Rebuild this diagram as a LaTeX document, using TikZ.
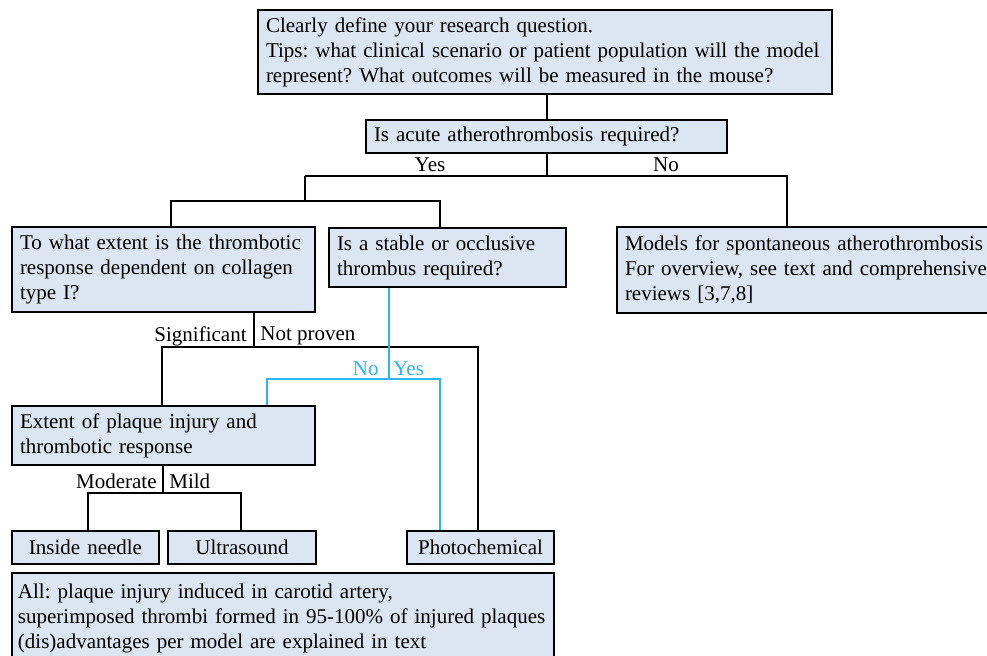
\documentclass[tikz,border=0pt]{standalone}
\usepackage{fontspec}
\setmainfont{Liberation Serif}
\usepackage{tikz}
\usetikzlibrary{calc}
\usetikzlibrary{positioning}
\definecolor{boxfill}{RGB}{220,230,242}
\definecolor{lineblue}{RGB}{45,182,235}

\begin{document}
\begin{tikzpicture}[x=0.5pt,y=-0.5pt,font=\fontsize{10.5}{12.5}\selectfont\frenchspacing]
\tikzstyle{box}=[rectangle,align=left,draw,line width=1pt,fill=boxfill,anchor=north west,inner xsep=4pt,inner ysep=0pt]
\tikzstyle{link}=[line width=1pt]
\tikzstyle{blink}=[line width=1pt,draw=lineblue]
\tikzstyle{lbl}=[inner sep=0pt]
\useasboundingbox (0,0) rectangle (987,656);
\clip (0,0) rectangle (987,656);
\node[box,text width=279pt,minimum height=42pt] at (257,9) (q) {Clearly define your research question.\\
                         Tips: what clinical scenario or patient population will the model\\
                         represent? What outcomes will be measured in the mouse?};
\node[box,text width=172.5pt,minimum height=16.5pt] at (365,119) (acute) {Is acute atherothrombosis required?};
\node[box,text width=143.5pt,minimum height=42.5pt] at (11,226) (collagen) {To what extent is the thrombotic\\
                         response dependent on collagen\\
                         type I?};
\node[box,text width=110.5pt,minimum height=29.5pt] at (328,227) (stable) {Is a stable or occlusive\\
                         thrombus required?};
\node[box,text width=189pt,minimum height=43pt] at (616,226) (spont) {Models for spontaneous atherothrombosis\\
                         For overview, see text and comprehensive\\
                         reviews [3,7,8]};
\node[box,text width=143.5pt,minimum height=29.5pt] at (11,405) (extent) {Extent of plaque injury and\\
                         thrombotic response};
\node[box,align=center,text width=65.5pt,minimum height=16.5pt] at (11,530) (needle) {Inside needle};
\node[box,align=center,text width=66pt,minimum height=16.5pt] at (167,530) (ultra) {Ultrasound};
\node[box,align=center,text width=65.5pt,minimum height=16.5pt] at (406,530) (photo) {Photochemical};
\node[box,inner xsep=3pt,text width=265pt,minimum height=45pt] at (11,572) (all) {All: plaque injury induced in carotid artery,\\
                         superimposed thrombi formed in 95-100\% of injured plaques\\
                         (dis)advantages per model are explained in text};

\coordinate (yes) at (305,176);
\coordinate (no) at (787,176);
\coordinate (yesbus) at (305,201);
\coordinate (colT) at (171,201);
\coordinate (staT) at (440,201);
\draw[link] (q.south -| acute.north) -- (acute.north);
\draw[link] (acute.south) -- (acute.south |- yes);
\draw[link] (yes) -- (no) -- (no |- spont.north);
\draw[link] (yes) -- (yesbus);
\draw[link] (collagen.north -| colT) -- (colT) -- (staT) -- (stable.north -| staT);
\node[lbl] at (430,165) (yestxt) {Yes};
\node[lbl] at (666,165) (notxt) {No};

\coordinate (sig) at (254,347);
\coordinate (sigL) at (162,347);
\coordinate (sigR) at (478,347);
\draw[link] (collagen.south -| sig) -- (sig);
\draw[link] (extent.north -| sigL) -- (sigL) -- (sigR) -- (photo.north -| sigR);
\node[lbl,anchor=east] at (247,336) (sigtxt) {Significant};
\node[lbl,anchor=west] at (260,336) (nptxt) {Not proven};

\coordinate (st) at (389,379);
\coordinate (stL) at (267,379);
\coordinate (stR) at (440,379);
\draw[blink] (stable.south -| st) -- (st);
\draw[blink] (extent.north -| stL) -- (stL) -- (stR) -- (photo.north -| stR);
\node[lbl,anchor=east,text=lineblue] at (379,369) (stno) {No};
\node[lbl,anchor=west,text=lineblue] at (393,369) (styes) {Yes};

\coordinate (mod) at (163,493);
\coordinate (modL) at (88,493);
\coordinate (modR) at (241,493);
\draw[link] (extent.south -| mod) -- (mod);
\draw[link] (needle.north -| modL) -- (modL) -- (modR) -- (ultra.north -| modR);
\node[lbl,anchor=east] at (157,481) (modtxt) {Moderate};
\node[lbl,anchor=west] at (169,481) (mildtxt) {Mild};
\end{tikzpicture}
\end{document}
